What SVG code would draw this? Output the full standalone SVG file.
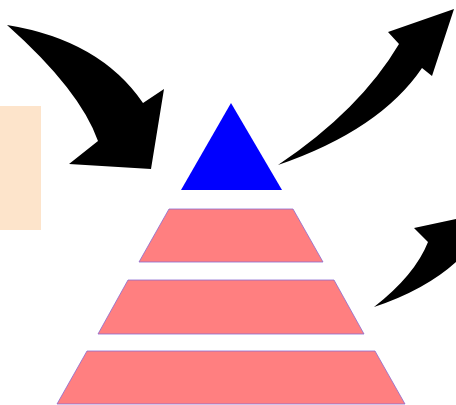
<svg xmlns="http://www.w3.org/2000/svg" width="456" height="405" viewBox="0 0 456 405">
<style>
.tier{fill:#ff7f80;stroke:#8a6ad0;stroke-width:0.8}
.arrow{fill:#000}
</style>
<rect width="456" height="405" fill="#fff"/>
<g id="sidebar"><rect x="0" y="106" width="41" height="124" fill="#fde4cb"/></g>
<g id="apex"><polygon points="231,103 282,190 181,190" fill="#0000ff"/></g>
<g id="tier1"><polygon class="tier" points="169,209 293,209 323,262 139,262"/></g>
<g id="tier2"><polygon class="tier" points="128,280 334,280 364,334 98,334"/></g>
<g id="tier3"><polygon class="tier" points="87,351 375,351 405,404 57,404"/></g>
<g id="connectors">
<path class="arrow" d="M7,25 Q100,40 143,103 L164,89 L151,169 L69,164 L98,141 Q80,90 7,25 Z"/>
<path class="arrow" d="M278,165 Q360,110 399,44 L388,32 L454,9 L432,76 L422,68 Q380,130 278,165 Z"/>
<path class="arrow" d="M374,307 Q415,275 428,242 L414,228 L480,214 L470,250 L456,262 Q425,290 374,307 Z"/>
</g>
</svg>
